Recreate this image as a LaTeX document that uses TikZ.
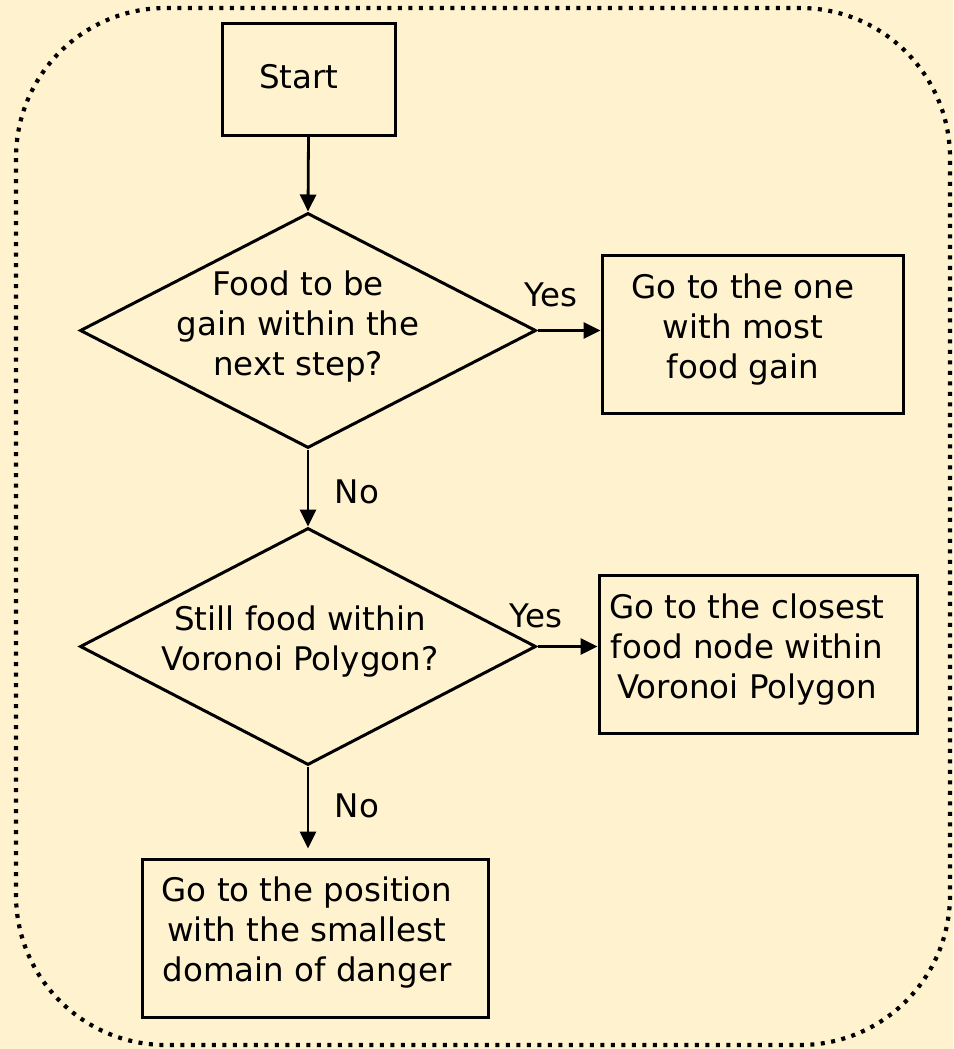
\documentclass[tikz,border=0pt]{standalone}
\usepackage{fontspec}
\setmainfont{DejaVu Sans}
\usetikzlibrary{shapes.geometric,arrows.meta}
\definecolor{bg}{RGB}{255,242,206}
\begin{document}
\begin{tikzpicture}[x=1pt,y=-1pt,
  box/.style={draw,line width=3pt,inner sep=0pt},
  dia/.style={draw,diamond,line width=3pt,inner sep=0pt},
  txt/.style={font=\fontsize{32.5}{40}\selectfont,align=center,inner sep=0pt},
  conn/.style={line width=2.8pt,-{Triangle[length=17pt,width=16pt]}}]
\fill[bg] (0,0) rectangle (953,1049);
\useasboundingbox (0,0) rectangle (953,1049);
\draw[line width=4.2pt, dash pattern=on 4pt off 6.5pt, rounded corners=150pt] (16,8) rectangle (950,1045);
% boxes
\node[box,minimum width=173pt,minimum height=111pt] (start) at (308.5,79.5) {};
\node[txt] (starttxt) at (299,77) {Start};
\node[dia,minimum width=456pt,minimum height=235pt] (d1) at (308,330.5) {};
\node[txt] (d1txt) at (298,327) {Food to be\\gain within the\\next step?};
\node[box,minimum width=301pt,minimum height=158pt] (b1) at (752.5,334) {};
\node[txt] (b1txt) at (743,330) {Go to the one\\with most\\food gain};
\node[dia,minimum width=456pt,minimum height=237pt] (d2) at (308,646.5) {};
\node[txt] (d2txt) at (300,642) {Still food within\\Voronoi Polygon?};
\node[box,minimum width=318pt,minimum height=158pt] (b2) at (758,654) {};
\node[txt] (b2txt) at (747,650) {Go to the closest\\food node within\\Voronoi Polygon};
\node[box,minimum width=346pt,minimum height=158pt] (b3) at (315,938) {};
\node[txt] (b3txt) at (307,933) {Go to the position\\with the smallest\\domain of danger};
% connectors
\draw[conn] (start.south) -- (d1.north);
\draw[conn] (d1.east) -- (b1.west |- d1.east);
\draw[conn] (d1.south) -- (d2.north);
\draw[conn] (d2.east) -- (b2.west |- d2.east);
\draw[conn,shorten >=9pt] (d2.south) -- (b3.north -| d2.south);
% labels
\node[txt] (yes1) at (551,295) {Yes};
\node[txt] (yes2) at (536,616) {Yes};
\node[txt] (no1) at (357,492) {No};
\node[txt] (no2) at (357,806) {No};
\end{tikzpicture}
\end{document}
